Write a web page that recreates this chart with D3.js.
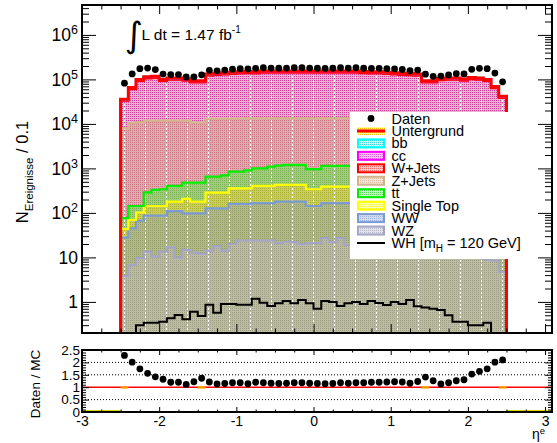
<!DOCTYPE html>
<html>
<head>
<meta charset="utf-8">
<script src="https://cdn.jsdelivr.net/npm/d3@7/dist/d3.min.js"></script>
<style>
html,body{margin:0;padding:0;background:#fff;}
svg{display:block;font-family:"Liberation Sans",Arial,Helvetica,sans-serif;}
</style>
</head>
<body>
<svg id="chart" width="557" height="443"></svg>
<script>
// ---------------- data ----------------
const etaBins = [-2.45,-2.35,-2.25,-2.15,-2.05,-1.95,-1.85,-1.75,-1.65,-1.55,-1.45,-1.35,-1.25,-1.15,-1.05,-0.95,-0.85,-0.75,-0.65,-0.55,-0.45,-0.35,-0.25,-0.15,-0.05,
  0.05,0.15,0.25,0.35,0.45,0.55,0.65,0.75,0.85,0.95,1.05,1.15,1.25,1.35,1.45,1.55,1.65,1.75,1.85,1.95,2.05,2.15,2.25,2.35,2.45];
const binWidth = 0.1;

const daten = [82080,132660,174000,179400,166140,132000,128400,128400,113220,113460,126480,159720,155940,162150,169920,174640,172140,177600,182900,179800,178250,179800,182900,182900,179800,
  178250,176700,178250,182900,179800,182900,178180,177600,177600,174240,172020,166980,156600,162360,131130,117180,118650,126260,134820,132600,168300,177120,174000,138690,88200];

const wz = [3.8,6.8,9.6,13.5,10.4,13.5,17,9.9,14.7,12.8,12,14.2,18,14.2,20,24,24,24,24,24,21,22.5,22,20,21,
  21,27,22,27,19,24,23,24,25,22,23,21,20,21,18,14,16,15,14,15,12,11,9,8.5,4.7];
const ww = [24.2,38.2,57.4,73.5,76.6,73.5,93,100.1,83.3,85.2,86,112.8,109,112.8,139,135,135,141,141,141,158,156.5,157,159,122,
  122,138,143,138,146,141,147,146,140,138,137,129,130,109,82,86,104,95,96,85,78,69,56,36.5,23.3];
const singleTop = [15,25,35,56,56,56,69,69,108,81,81,160,160,160,198,198,198,240,240,240,247,247,247,247,197,
  197,225,225,225,225,235,240,250,245,240,220,220,200,160,100,100,150,140,130,120,110,90,65,45,17];
const ttbar = [33,73,41,147,187,197,226,226,274,301,301,368,368,413,493,493,543,595,595,695,724,774,774,774,620,
  620,750,750,750,750,750,740,680,690,650,620,580,550,410,300,300,380,350,320,280,250,160,120,55,31];
const zjets = [7924,10257,10857,11610,11570,11560,11495,11495,11420,10220,10220,12345,12345,12300,12350,12350,12400,12300,12400,12300,12350,12300,12300,12300,12540,
  12540,12360,12360,12360,12360,12350,12250,12200,12200,12150,12200,12050,12100,12300,10200,10200,11250,11300,11340,11400,11450,11570,10750,10255,7924];
const wjets = [25120,50320,81000,93900,95740,80100,86540,86540,81940,74860,74860,108440,113960,116720,119280,122960,125620,122860,129200,129200,129100,129100,129100,129100,129100,
  129100,129100,129100,129100,129100,129100,125520,122860,122860,119280,116520,113960,111200,108440,74860,74860,84700,86540,86540,81940,89300,87460,81000,53080,30640];
const cc = [2160,3960,6000,6900,7020,6000,6420,6420,6120,5580,5580,7920,8280,8460,8640,8880,9060,8880,9300,9300,9300,9300,9300,9300,9300,
  9300,9300,9300,9300,9300,9300,9060,8880,8880,8640,8460,8280,8100,7920,5580,5580,6300,6420,6420,6120,6600,6480,6000,4140,2520];
const bb = [720,1320,2000,2300,2340,2000,2140,2140,2040,1860,1860,2640,2760,2820,2880,2960,3020,2960,3100,3100,3100,3100,3100,3100,3100,
  3100,3100,3100,3100,3100,3100,3020,2960,2960,2880,2820,2760,2700,2640,1860,1860,2100,2140,2140,2040,2200,2160,2000,1380,840];
const whSignal = [0.1,0.15,0.30,0.34,0.34,0.36,0.43,0.51,0.41,0.60,0.48,0.86,0.57,0.90,0.90,0.86,0.86,1.17,0.96,0.81,0.93,1.05,0.93,1.10,0.93,
  0.70,1.05,1.00,0.81,0.93,1.00,0.90,1.05,0.95,0.85,1.00,0.90,1.10,0.80,0.75,0.70,0.66,0.50,0.36,0.36,0.30,0.30,0.34,0.15,0.10];

const xTickValues = [-3,-2,-1,0,1,2,3];
const yDecades = [1,10,100,1e3,1e4,1e5,1e6];
const ratioTickValues = [0,0.5,1,1.5,2,2.5];
const ratioGridValues = [0.5,1.5,2];
const ratioBandBins = [-2.45,-1.45,1.45,2.45];
const lumiText = "L dt = 1.47 fb";
const lumiExp = "-1";

// stack order bottom -> top
const stackKeys = ['wz','ww','singleTop','ttbar','zjets','wjets','cc','bb'];
const seriesValues = {wz, ww, singleTop, ttbar, zjets, wjets, cc, bb};
const legendNames = {bb:'bb', cc:'cc', wjets:'W+Jets', zjets:'Z+Jets', ttbar:'tt', singleTop:'Single Top', ww:'WW', wz:'WZ'};

// ---------------- styles ----------------
const lineColor = {wz:'#a4a4c4', ww:'#7b9bd3', singleTop:'#ffff00', ttbar:'#00ee00', zjets:'#d2b48c', wjets:'#ff0000', cc:'#ff00ff', bb:'#00ffff'};
const bandFill = {
  wz:['#bdbda6','#9c9c80'], ww:['#b2ba8c','#909a62'], singleTop:['#cacd62','#a9b030'],
  ttbar:['#a2cd7e','#78b050'], zjets:['#e0abb1','#c8707c'], wjets:['#eeb0d4','#d0409a'],
  cc:['#eeb0d4','#d0409a'], bb:['#eeb0d4','#d0409a']
};
const legendFill = {
  bb:['#c8f4f4','#40e0e0'], cc:['#f6c4f2','#e060e0'], wjets:['#f8c4c4','#f07070'], zjets:['#f4e4d4','#dcbca0'],
  ttbar:['#c0f4c0','#60e060'], singleTop:['#ffffc0','#f0f040'], ww:['#d4ddf0','#a0b4e0'], wz:['#e2e2ec','#b8b8cc']
};

// ---------------- layout ----------------
const mainL = 82, mainR = 552, mainT = 5, mainB = 333;
const ratT = 350, ratB = 412;

const svg = d3.select('#chart');
const defs = svg.append('defs');

const x = d3.scaleLinear().domain([-3, 3.09]).range([mainL, mainR]);
const yRaw = d3.scaleLog().domain([0.2, 4.7e6]).range([mainB, mainT]).clamp(true);
const y = v => yRaw(Math.max(v, 1e-3));
const yr = d3.scaleLinear().domain([0, 2.5]).range([ratB, ratT]);
const hw = binWidth / 2;

defs.append('clipPath').attr('id','clipMain').append('rect')
  .attr('x', mainL).attr('y', mainT).attr('width', mainR - mainL).attr('height', mainB - mainT);
defs.append('clipPath').attr('id','clipRatio').append('rect')
  .attr('x', mainL).attr('y', ratT - 4).attr('width', mainR - mainL).attr('height', ratB - ratT + 4);

function dotPattern(id, bg, dot, size) {
  const p = defs.append('pattern').attr('id', id).attr('patternUnits','userSpaceOnUse')
    .attr('width', size).attr('height', size);
  p.append('rect').attr('width', size).attr('height', size).attr('fill', bg);
  p.append('rect').attr('width', 1).attr('height', 1).attr('fill', dot);
}
stackKeys.forEach(k => {
  dotPattern('band_' + k, bandFill[k][0], bandFill[k][1], 2);
  dotPattern('leg_' + k, legendFill[k][0], legendFill[k][1], 2);
});
dotPattern('leg_bkg', '#ffff90', '#f0c000', 2);
// white dashed texture columns as in the reference rendering
const dp = defs.append('pattern').attr('id','whiteDash').attr('patternUnits','userSpaceOnUse')
  .attr('x', 19).attr('y', 0).attr('width', 21).attr('height', 4);
dp.append('rect').attr('x',0).attr('y',0).attr('width',1).attr('height',2).attr('fill','#ffffff');

function stepPath(vals) {
  let d = `M${x(etaBins[0]-hw)},${mainB}`;
  vals.forEach((v, i) => { d += `V${y(v)}H${x(etaBins[i]+hw)}`; });
  return d + `V${mainB}`;
}
function bandPath(lo, hi) {
  let d = `M${x(etaBins[0]-hw)},${y(lo[0])}`;
  hi.forEach((v, i) => { d += `V${y(v)}H${x(etaBins[i]+hw)}`; });
  for (let i = lo.length - 1; i >= 0; i--) { d += `V${y(lo[i])}H${x(etaBins[i]-hw)}`; }
  return d + 'Z';
}

const table = etaBins.map((e, i) => {
  const r = {eta: e};
  stackKeys.forEach(k => r[k] = seriesValues[k][i]);
  return r;
});
const stacked = d3.stack().keys(stackKeys)(table);
const total = table.map(r => d3.sum(stackKeys, k => r[k]));
const ratio = daten.map((v, i) => v / total[i]);

// ---------------- main panel ----------------
const gMain = svg.append('g').attr('clip-path','url(#clipMain)');

stacked.forEach(s => {
  const lo = s.map(d => d[0]), hi = s.map(d => d[1]);
  gMain.append('path').attr('d', bandPath(lo, hi)).attr('fill', `url(#band_${s.key})`);
});
// texture columns over the filled region
gMain.append('path').attr('d', stepPath(total) + 'Z').attr('fill', 'url(#whiteDash)');

stacked.forEach(s => {
  const hi = s.map(d => d[1]);
  gMain.append('path').attr('d', stepPath(hi)).attr('fill','none')
    .attr('stroke', lineColor[s.key]).attr('stroke-width', 2.2);
});
gMain.append('path').attr('d', stepPath(total)).attr('fill','none')
  .attr('stroke', '#ff0000').attr('stroke-width', 3);
gMain.append('path').attr('d', stepPath(whSignal)).attr('fill','none')
  .attr('stroke', '#000').attr('stroke-width', 2);

gMain.selectAll('circle.dat').data(daten).join('circle').attr('class','dat')
  .attr('cx', (d, i) => x(etaBins[i])).attr('cy', d => y(d)).attr('r', 3.4).attr('fill', '#000');

// lumi label
const lumi = svg.append('g');
lumi.append('text').attr('x', 124.5).attr('y', 47).attr('font-size', 35)
  .attr('font-family','"DejaVu Sans",sans-serif').text('\u222B');
const lt = lumi.append('text').attr('x', 141.5).attr('y', 40).attr('font-size', 15.5);
lt.append('tspan').text(lumiText);
lt.append('tspan').attr('dy', -7).attr('font-size', 10).text(lumiExp);

// ---------------- legend ----------------
const legX = 350, legY = 112, legW = 199, legH = 147;
const leg = svg.append('g');
leg.append('rect').attr('x', legX).attr('y', legY).attr('width', legW).attr('height', legH).attr('fill', '#fff');
const rowY = i => 118.5 + 12.45 * i;
const symX0 = 357, symX1 = 385, txtX = 391.5, fs = 14.5;
// Daten
leg.append('circle').attr('cx', (symX0 + symX1) / 2).attr('cy', rowY(0)).attr('r', 3.4).attr('fill', '#000');
leg.append('text').attr('x', txtX).attr('y', rowY(0) + 5).attr('font-size', fs).text('Daten');
// Untergrund
leg.append('rect').attr('x', symX0).attr('y', rowY(1) - 4).attr('width', symX1 - symX0).attr('height', 8).attr('fill', 'url(#leg_bkg)');
leg.append('line').attr('x1', symX0).attr('x2', symX1).attr('y1', rowY(1)).attr('y2', rowY(1)).attr('stroke', '#ff0000').attr('stroke-width', 3);
leg.append('text').attr('x', txtX).attr('y', rowY(1) + 5).attr('font-size', fs).text('Untergrund');
// samples (top of stack first)
stackKeys.slice().reverse().forEach((k, j) => {
  const cy = rowY(j + 2);
  leg.append('rect').attr('x', symX0 + 1).attr('y', cy - 4).attr('width', symX1 - symX0 - 2).attr('height', 8)
    .attr('fill', `url(#leg_${k})`).attr('stroke', lineColor[k]).attr('stroke-width', 2);
  leg.append('text').attr('x', txtX).attr('y', cy + 5).attr('font-size', fs).text(legendNames[k]);
});
// WH signal
const whRow = rowY(10);
leg.append('line').attr('x1', symX0).attr('x2', symX1).attr('y1', whRow).attr('y2', whRow).attr('stroke', '#000').attr('stroke-width', 2);
const wht = leg.append('text').attr('x', txtX).attr('y', whRow + 5).attr('font-size', fs);
wht.append('tspan').text('WH [m');
wht.append('tspan').attr('dy', 4).attr('font-size', 10).text('H');
wht.append('tspan').attr('dy', -4).text(' = 120 GeV]');

// ---------------- axes (main) ----------------
function cleanAxis(g) { g.select('.domain').remove(); g.attr('font-family', null).attr('font-size', null); }
const minorX = d3.range(-3, 3.0001, 0.25).filter(v => !xTickValues.includes(Math.round(v * 100) / 100));
function xAxes(yPos, dir, major, minor, labels) {
  const maker = dir === 'bottom' ? d3.axisBottom : d3.axisTop;
  const gMa = svg.append('g').attr('transform', `translate(0,${yPos})`)
    .call(maker(x).tickValues(xTickValues).tickSize(-major).tickPadding(major + 5)
      .tickFormat(labels ? (d => d < 0 ? '-' + Math.abs(d) : String(d)) : ''));
  cleanAxis(gMa);
  const gMi = svg.append('g').attr('transform', `translate(0,${yPos})`)
    .call(maker(x).tickValues(minorX).tickSize(-minor).tickFormat(''));
  cleanAxis(gMi);
  return gMa;
}
xAxes(mainB, 'bottom', 9, 4.5, false);
xAxes(mainT, 'top', 9, 4.5, false);

const minorY = [];
for (let e = -1; e <= 6; e++) for (let m = 2; m <= 9; m++) {
  const v = m * Math.pow(10, e);
  if (v >= 0.2 && v <= 4.7e6) minorY.push(v);
}
const gYL = svg.append('g').attr('transform', `translate(${mainL},0)`)
  .call(d3.axisLeft(yRaw).tickValues(yDecades).tickSize(-14).tickPadding(4).tickFormat(d => d));
cleanAxis(gYL);
gYL.selectAll('.tick text').attr('font-size', 17.5).attr('fill', '#000').each(function(d) {
  const t = d3.select(this);
  const e = Math.round(Math.log10(d));
  t.text(null);
  if (e < 2) { t.text(String(d)); }
  else {
    t.append('tspan').text('10');
    t.append('tspan').attr('dy', -7).attr('font-size', 12.5).text(e);
  }
});
cleanAxis(svg.append('g').attr('transform', `translate(${mainL},0)`)
  .call(d3.axisLeft(yRaw).tickValues(minorY).tickSize(-7).tickFormat('')));
cleanAxis(svg.append('g').attr('transform', `translate(${mainR},0)`)
  .call(d3.axisRight(yRaw).tickValues(yDecades).tickSize(-14).tickFormat('')));
cleanAxis(svg.append('g').attr('transform', `translate(${mainR},0)`)
  .call(d3.axisRight(yRaw).tickValues(minorY).tickSize(-7).tickFormat('')));

svg.append('rect').attr('x', mainL).attr('y', mainT).attr('width', mainR - mainL).attr('height', mainB - mainT)
  .attr('fill', 'none').attr('stroke', '#000').attr('stroke-width', 2);

// y title main
const yt = svg.append('text').attr('transform', 'translate(28,172) rotate(-90)')
  .attr('text-anchor', 'middle').attr('font-size', 16.5);
yt.append('tspan').text('N');
yt.append('tspan').attr('dy', 5).attr('font-size', 11.5).text('Ereignisse');
yt.append('tspan').attr('dy', -5).text(' / 0.1');

// ---------------- ratio panel ----------------
const gR = svg.append('g');
ratioGridValues.forEach(v => {
  gR.append('line').attr('x1', mainL).attr('x2', mainR).attr('y1', yr(v)).attr('y2', yr(v))
    .attr('stroke', '#000').attr('stroke-width', 1).attr('stroke-dasharray', '1,2');
});
// baseline band remnants
gR.append('line').attr('x1', x(-3)).attr('x2', x(etaBins[0] - hw)).attr('y1', yr(0) - 1).attr('y2', yr(0) - 1)
  .attr('stroke', '#d8d800').attr('stroke-width', 2);
gR.append('line').attr('x1', x(etaBins[etaBins.length - 1] + hw)).attr('x2', mainR).attr('y1', yr(0) - 1).attr('y2', yr(0) - 1)
  .attr('stroke', '#d8d800').attr('stroke-width', 2);
gR.append('line').attr('x1', mainL).attr('x2', mainR).attr('y1', yr(1)).attr('y2', yr(1))
  .attr('stroke', '#ff0000').attr('stroke-width', 1.5);
ratioBandBins.forEach(b => {
  gR.append('rect').attr('x', x(b - hw)).attr('y', yr(1) - 1).attr('width', x(b + hw) - x(b - hw)).attr('height', 2.5)
    .attr('fill', '#ffa500').attr('opacity', 0.9);
});
gR.append('g').attr('clip-path', 'url(#clipRatio)').selectAll('circle').data(ratio).join('circle')
  .attr('cx', (d, i) => x(etaBins[i])).attr('cy', d => yr(d)).attr('r', 3.4).attr('fill', '#000');

const minorR = d3.range(0, 2.5001, 0.1).map(v => Math.round(v * 10) / 10).filter(v => !ratioTickValues.includes(v));
const gRL = svg.append('g').attr('transform', `translate(${mainL},0)`)
  .call(d3.axisLeft(yr).tickValues(ratioTickValues).tickSize(-7).tickPadding(2).tickFormat(d => String(d)));
cleanAxis(gRL);
gRL.selectAll('.tick text').attr('font-size', 13.5).attr('fill', '#000');
cleanAxis(svg.append('g').attr('transform', `translate(${mainL},0)`)
  .call(d3.axisLeft(yr).tickValues(minorR).tickSize(-4).tickFormat('')));
cleanAxis(svg.append('g').attr('transform', `translate(${mainR},0)`)
  .call(d3.axisRight(yr).tickValues(ratioTickValues).tickSize(-7).tickFormat('')));
cleanAxis(svg.append('g').attr('transform', `translate(${mainR},0)`)
  .call(d3.axisRight(yr).tickValues(minorR).tickSize(-4).tickFormat('')));

const gRB = xAxes(ratB, 'bottom', 5, 2.5, true);
gRB.selectAll('.tick text').attr('font-size', 14).attr('fill', '#000').attr('dy', null).attr('y', 13.5);
xAxes(ratT, 'top', 5, 2.5, false);

svg.append('rect').attr('x', mainL).attr('y', ratT).attr('width', mainR - mainL).attr('height', ratB - ratT)
  .attr('fill', 'none').attr('stroke', '#000').attr('stroke-width', 2);

svg.append('text').attr('transform', 'translate(40,384) rotate(-90)').attr('text-anchor', 'middle')
  .attr('font-size', 13.5).text('Daten / MC');

const xt = svg.append('text').attr('x', 545).attr('y', 439).attr('text-anchor', 'end').attr('font-size', 14);
xt.append('tspan').text('\u03B7');
xt.append('tspan').attr('dy', -5).attr('font-size', 9.5).text('e');
</script>
</body>
</html>
